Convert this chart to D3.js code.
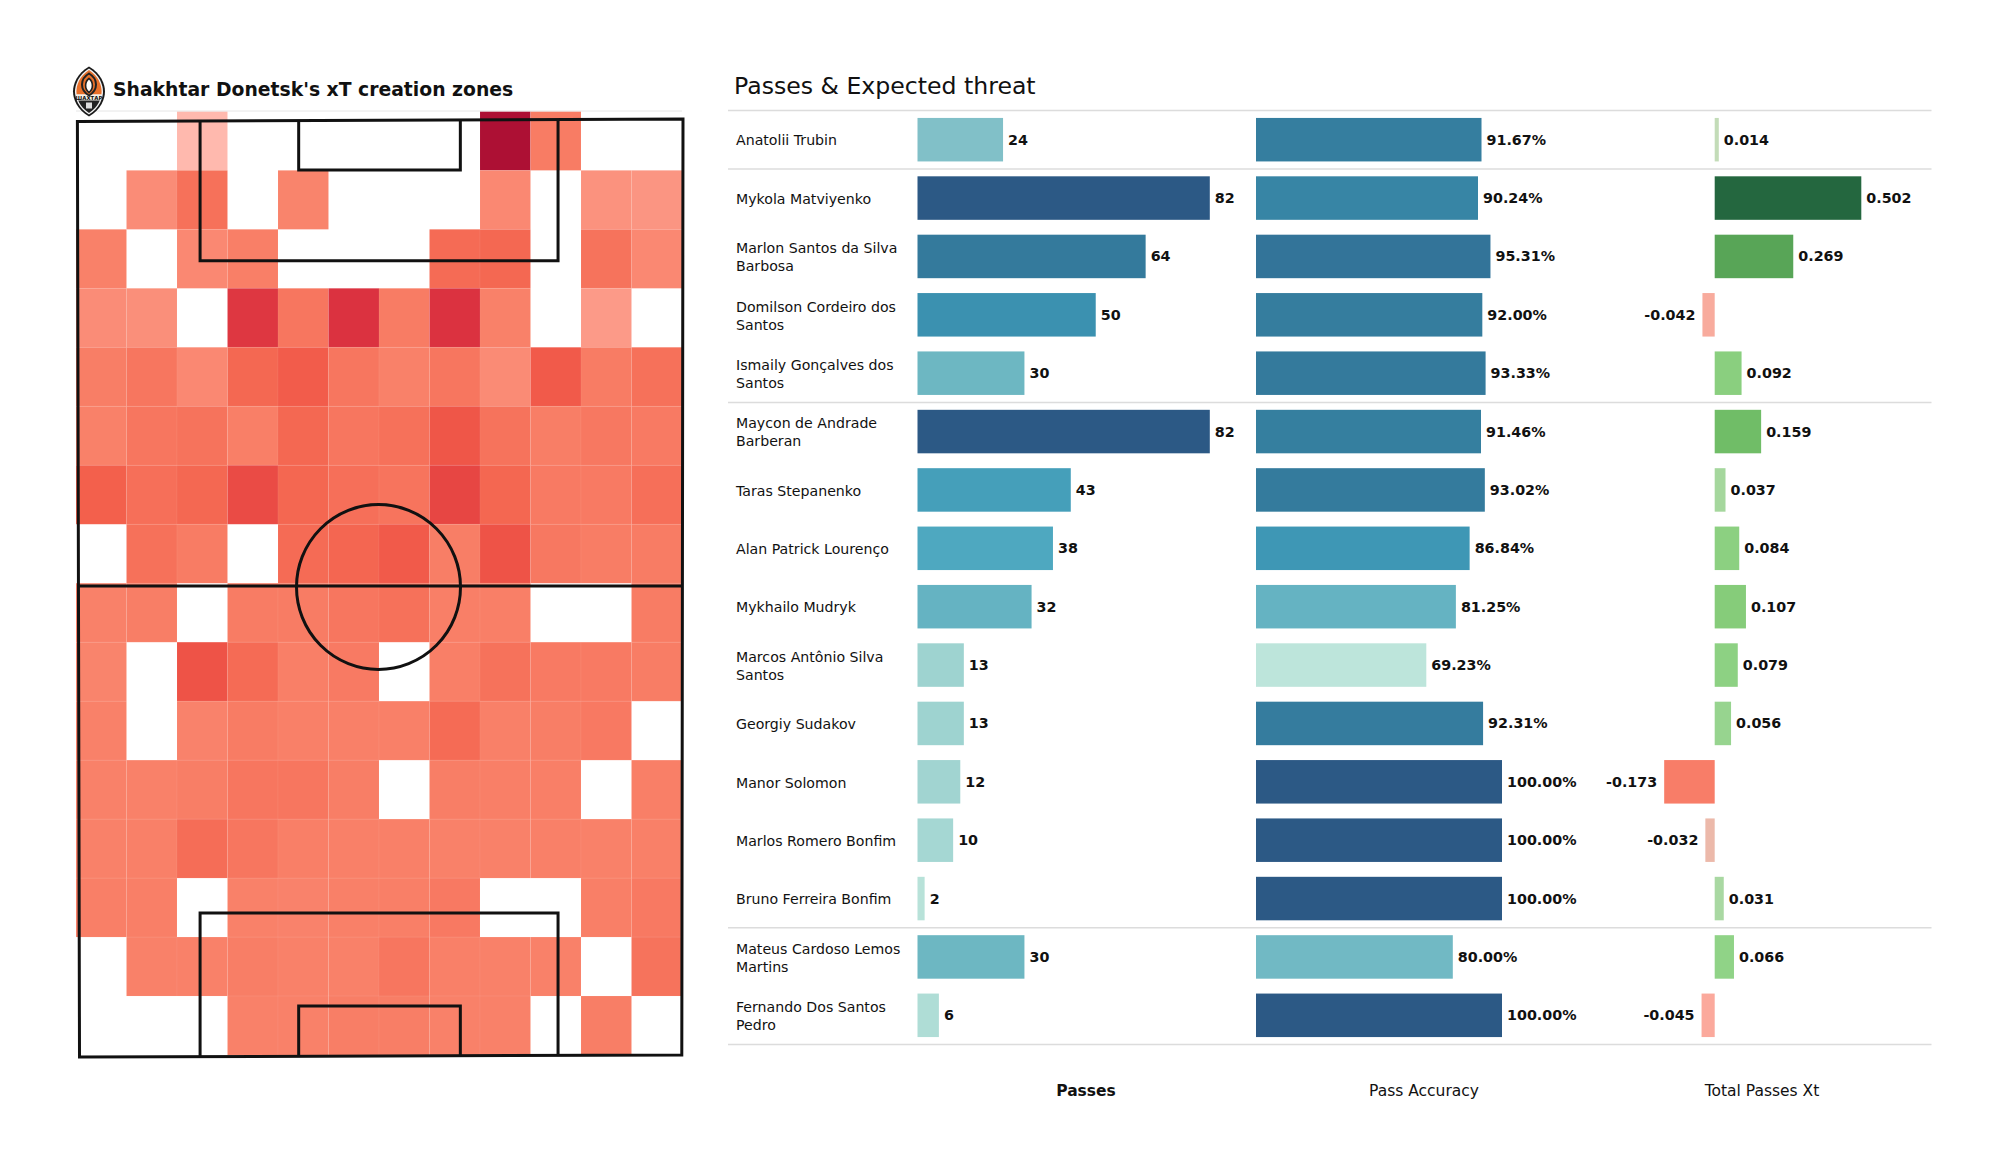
<!DOCTYPE html>
<html><head><meta charset="utf-8">
<script src="https://cdn.jsdelivr.net/npm/d3@7/dist/d3.min.js"></script>
<style>html,body{margin:0;padding:0;background:#fff}svg{display:block}text{font-family:"DejaVu Sans",sans-serif;fill:#111}</style>
</head><body><svg id="c" width="2000" height="1175"></svg>
<script>
const players = ["Anatolii Trubin","Mykola Matviyenko","Marlon Santos da Silva|Barbosa","Domilson Cordeiro dos|Santos","Ismaily Gonçalves dos|Santos","Maycon de Andrade|Barberan","Taras Stepanenko","Alan Patrick Lourenço","Mykhailo Mudryk","Marcos Antônio Silva|Santos","Georgiy Sudakov","Manor Solomon","Marlos Romero Bonfim","Bruno Ferreira Bonfim","Mateus Cardoso Lemos|Martins","Fernando Dos Santos|Pedro"];
const passes = [24,82,64,50,30,82,43,38,32,13,13,12,10,2,30,6];
const accuracy = [91.67,90.24,95.31,92.00,93.33,91.46,93.02,86.84,81.25,69.23,92.31,100,100,100,80,100];
const xt = [0.014,0.502,0.269,-0.042,0.092,0.159,0.037,0.084,0.107,0.079,0.056,-0.173,-0.032,0.031,0.066,-0.045];
const separatorsAfter = [-1,0,4,13,15];
const columnTitles = ["Passes","Pass Accuracy","Total Passes Xt"];
const _ = null;
// xT intensity per zone, top row first (estimated shade steps)
const zones = [
[_,_,1,_,_,_,_,_,11,4.5,_,_],
[_,3.2,5.5,_,3.8,_,_,_,3.5,_,2.8,2.6],
[4,_,3.5,4.2,_,_,_,6,6.3,_,5.3,3.5],
[3.2,3,_,9.7,5,10,4.5,10,4,_,2.3,_],
[4.3,5,3.5,6.3,7.3,5,4,5,3.3,7.5,4.5,5.5],
[4,5,5.3,4.2,6.3,5,5.5,7.8,5.3,4.3,4.8,4.6],
[7,5.6,6.3,8.5,6.4,5.6,5.2,8.8,6.4,4.6,4.6,5.6],
[_,5.5,4.5,_,6,6.5,7.5,4.3,8,4.8,4.4,4.5],
[4,4.3,_,4.5,4.5,5,5.5,4.2,4.2,_,_,4.5],
[3.8,_,8,6,4.2,4.6,_,4.2,5.4,4.6,4.6,4.4],
[4,_,3.9,4.5,4.1,4.1,4.1,6,4.1,4.3,4.7,_],
[4,4,4.3,5,5,4.3,_,4.3,4.2,4.2,_,4.2],
[4,4.1,5.8,5,4.2,4.1,4.1,4,4,4.1,4,4.1],
[4.2,4.2,_,4,3.9,4.1,4.2,4.7,_,_,4.2,4.7],
[_,4,4,4.3,4,4,5,4.1,4,4,_,5.3],
[_,_,_,4,4,4.3,4.3,4,4,_,4.3,_]
];
const svg = d3.select("#c");

// ---------- heat map
const zoneX = d3.scaleBand().domain(d3.range(12)).range([76,682]).paddingInner(0).paddingOuter(0);
const zoneY = d3.scaleBand().domain(d3.range(16)).range([111.4,1055]);
const heat = d3.scaleLinear().domain([1,2.3,3,4,5,6,7,8,9,10,11])
 .range(["#ffb9ae","#fc9a88","#fa8f7a","#f98169","#f7765f","#f56b55","#f3604c","#ee5347","#e54342","#db3240","#ad1034"]);
const cells = [];
zones.forEach((r,i)=>r.forEach((v,j)=>{ if(v!==null) cells.push({i,j,v}); }));
svg.append("g").selectAll("rect").data(cells).join("rect")
 .attr("x",d=>zoneX(d.j)).attr("y",d=>zoneY(d.i))
 .attr("width",zoneX.bandwidth()).attr("height",zoneY.bandwidth())
 .attr("fill",d=>heat(d.v)).attr("stroke","#fff").attr("stroke-opacity",0.05).attr("stroke-width",1);
svg.append("line").attr("x1",76).attr("x2",682).attr("y1",111).attr("y2",111).attr("stroke","#e6e6e6").attr("stroke-width",1);

// ---------- pitch
const px = d3.scaleLinear().domain([0,68]).range([78.4,682.4]);
const py = d3.scaleLinear().domain([0,105]).range([120,1056]);
const pitch = svg.append("g").attr("fill","none").attr("stroke","#111").attr("stroke-width",3);
pitch.append("path").attr("d","M77.4,121.4L683,119L681.8,1055L79.5,1057Z");
pitch.append("line").attr("x1",px(0)).attr("x2",px(68)).attr("y1",586).attr("y2",586);
[[13.7,54.0],[24.8,43.0]].forEach((b,k)=>{
  const depth = k===0?15.8:5.6;
  pitch.append("path").attr("d",`M${px(b[0])},${py(0)}V${py(depth)}H${px(b[1])}V${py(0)}`);
  pitch.append("path").attr("d",`M${px(b[0])},${py(105)}V${py(105-(k===0?16.05:5.6))}H${px(b[1])}V${py(105)}`);
});
pitch.append("ellipse").attr("cx",378.5).attr("cy",587).attr("rx",82).attr("ry",82.4);

// ---------- crest
const crest = svg.append("g").attr("transform","translate(89,91.5)");
const lens = (w,h)=>`M0,${-h}C${w*0.75},${-h*0.72} ${w},${-h*0.3} ${w},0C${w},${h*0.3} ${w*0.75},${h*0.72} 0,${h}C${-w*0.75},${h*0.72} ${-w},${h*0.3} ${-w},0C${-w},${-h*0.3} ${-w*0.75},${-h*0.72} 0,${-h}Z`;
crest.append("path").attr("d",lens(16,25)).attr("fill","#1a1a1a");
crest.append("path").attr("d",lens(14,23)).attr("fill","#f2f2f2");
crest.append("clipPath").attr("id","lc").append("path").attr("d",lens(12.6,21.5));
const cg = crest.append("g").attr("clip-path","url(#lc)");
cg.append("rect").attr("x",-14).attr("y",-23).attr("width",28).attr("height",26).attr("fill","#e8702a");
cg.append("rect").attr("x",-14).attr("y",3).attr("width",28).attr("height",6).attr("fill","#f5f1e8");
cg.append("rect").attr("x",-14).attr("y",9).attr("width",28).attr("height",15).attr("fill","#222");
crest.append("path").attr("d",lens(7,11)).attr("transform","translate(0,-7)").attr("fill","none").attr("stroke","#222").attr("stroke-width",2);
crest.append("path").attr("d",lens(3.4,7)).attr("transform","translate(0,-6)").attr("fill","#fff").attr("stroke","#222").attr("stroke-width",1.6);
crest.append("text").attr("x",0).attr("y",8.2).attr("text-anchor","middle").attr("font-size",5.4).attr("font-weight",700).text("ШАХТАР");
crest.append("rect").attr("x",-3).attr("y",11).attr("width",6).attr("height",6).attr("fill","#ddd");

// ---------- titles
svg.append("text").attr("x",113).attr("y",96).attr("font-size",18.8).attr("font-weight",700).text("Shakhtar Donetsk's xT creation zones");
svg.append("text").attr("x",734).attr("y",94).attr("font-size",23.6).text("Passes & Expected threat");

// ---------- table
const rowBand = d3.scaleBand().domain(d3.range(16)).range([110.5,1044.5]);
const rowMid = i=>rowBand(i)+rowBand.bandwidth()/2;
const barH = 43.5;
const xPass = d3.scaleLinear().domain([0,82]).range([917.5,1209.8]);
const xAcc = d3.scaleLinear().domain([0,100]).range([1256,1502]);
const xXt = d3.scaleLinear().domain([0,0.502]).range([1714.7,1861.3]);
const blues = d3.scaleLinear().domain([0,.15,.3,.37,.46,.58,.72,.85,1])
 .range(["#bde5db","#a0d4d1","#7fbfc8","#6cb6c2","#4fa9c0","#3d96b4","#357f9f","#337499","#2c5985"]);
const greens = d3.scaleLinear().domain([0.014,0.031,0.066,0.107,0.159,0.269,0.502])
 .range(["#c3dcb8","#a9d8a2","#90d387","#86cc7a","#70bd67","#58a557","#24673f"]);
const reds = d3.scaleLinear().domain([-0.173,-0.045,-0.042,-0.032])
 .range(["#f87d68","#fba99c","#f8ab9d","#ecb9aa"]);

players.forEach((name,i)=>{
  const lines = name.split("|");
  const t = svg.append("text").attr("x",736).attr("font-size",14.15);
  lines.forEach((l,k)=>t.append("tspan").attr("x",736)
    .attr("y",rowMid(i)+5.8 + (lines.length===2?(k===0?-9:9):0)).text(l));
});
separatorsAfter.forEach(a=>{
  const y = a<0?110.5:rowBand(a)+rowBand.bandwidth();
  svg.append("line").attr("x1",728).attr("x2",1931.5).attr("y1",y).attr("y2",y).attr("stroke","#dcdcdc").attr("stroke-width",1.5);
});
const bars = (vals,x,color,fmt)=>{
  const g = svg.append("g");
  g.selectAll("rect").data(vals).join("rect")
   .attr("x",d=>Math.min(x(d),x(0))).attr("y",(d,i)=>rowMid(i)-barH/2)
   .attr("width",d=>Math.abs(x(d)-x(0))).attr("height",barH).attr("fill",color);
  g.selectAll("text").data(vals).join("text")
   .attr("x",d=>d<0?x(d)-7:x(d)+5).attr("y",(d,i)=>rowMid(i)+5)
   .attr("text-anchor",d=>d<0?"end":"start").attr("font-size",14.3).attr("font-weight",700).text(fmt);
};
bars(passes,xPass,d=>blues(d/82),d=>d);
bars(accuracy,xAcc,d=>blues((d-69.23)/(100-69.23)),d=>d.toFixed(2)+"%");
bars(xt,xXt,d=>d<0?reds(d):greens(d),d=>d.toFixed(3));
[1086,1424,1762].forEach((x,i)=>svg.append("text").attr("x",x).attr("y",1096).attr("text-anchor","middle")
  .attr("font-size",15.5).attr("font-weight",i===0?700:400).text(columnTitles[i]));
</script></body></html>
